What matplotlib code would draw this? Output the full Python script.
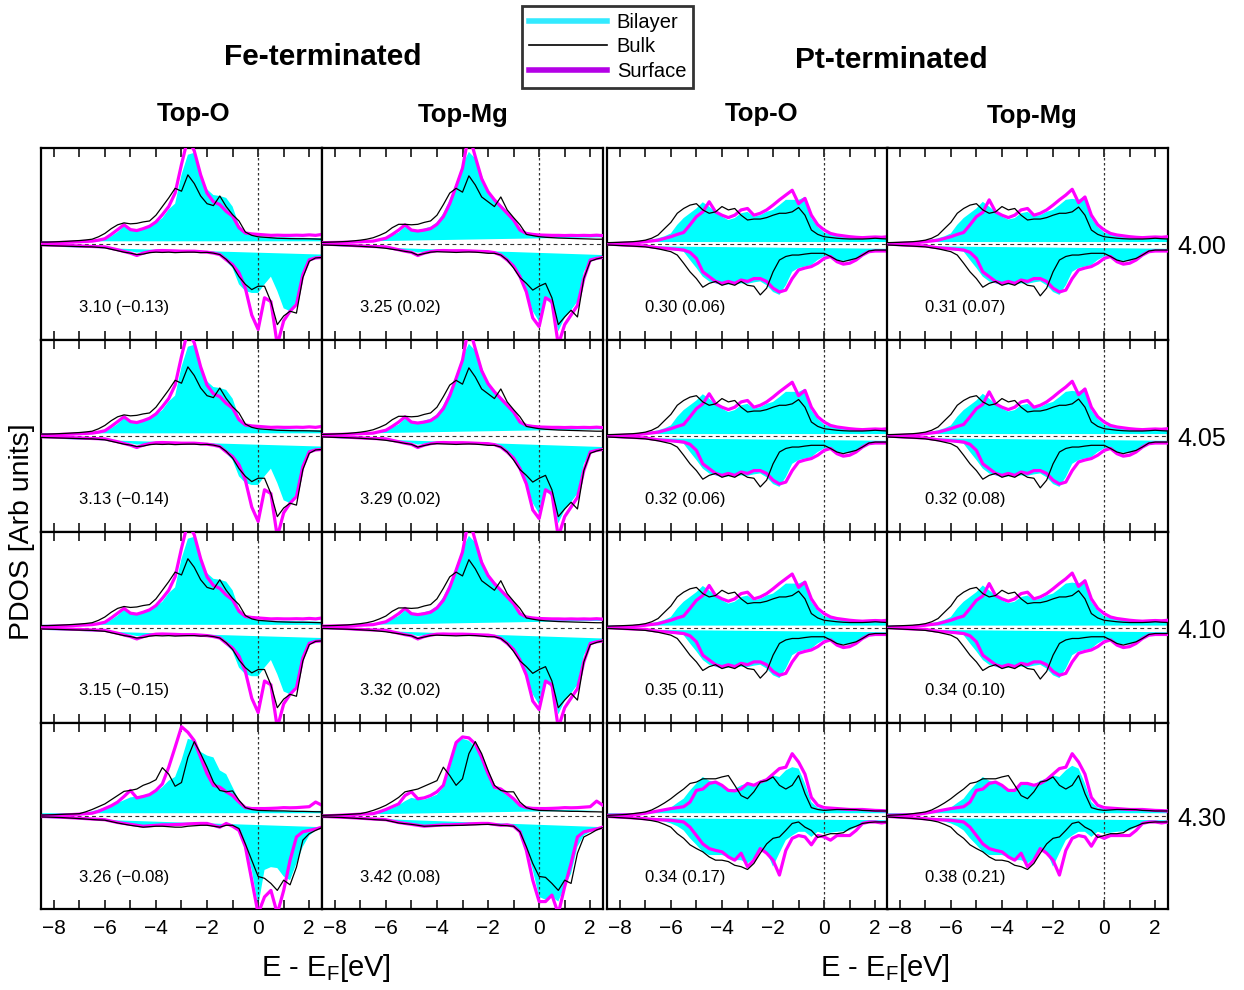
import numpy as np
import matplotlib
matplotlib.use("Agg")
import matplotlib.pyplot as plt
from matplotlib.lines import Line2D
from matplotlib.ticker import MultipleLocator

plt.rcParams['font.family'] = ['Liberation Sans', 'DejaVu Sans']
plt.rcParams['mathtext.fontset'] = 'custom'
plt.rcParams['mathtext.rm'] = 'Liberation Sans'
plt.rcParams['mathtext.it'] = 'Liberation Sans'

# energy grid (eV, relative to E_F)
energy = np.arange(-8.5, 2.51, 0.25)

row_labels = ["4.00", "4.05", "4.10", "4.30"]
col_titles = ["Top-O", "Top-Mg", "Top-O", "Top-Mg"]
group_titles = ["Fe-terminated", "Pt-terminated"]

fe_o_notes = ["3.10 (\u22120.13)", "3.13 (\u22120.14)", "3.15 (\u22120.15)", "3.26 (\u22120.08)"]
fe_mg_notes = ["3.25 (0.02)", "3.29 (0.02)", "3.32 (0.02)", "3.42 (0.08)"]
pt_o_notes = ["0.30 (0.06)", "0.32 (0.06)", "0.35 (0.11)", "0.34 (0.17)"]
pt_mg_notes = ["0.31 (0.07)", "0.32 (0.08)", "0.34 (0.10)", "0.38 (0.21)"]

# ---------------- Fe-terminated, Top-O (4.00 - 4.10) ----------------
fe_o_bil_up = [0.020, 0.020, 0.021, 0.022, 0.024, 0.026, 0.030, 0.034, 0.038,
               0.042, 0.045, 0.080, 0.125, 0.185, 0.150, 0.150, 0.165, 0.195,
               0.220, 0.270, 0.360, 0.420, 0.720, 0.930, 0.950, 0.700, 0.570,
               0.510, 0.500, 0.480, 0.390, 0.200, 0.115, 0.090, 0.080, 0.075,
               0.072, 0.070, 0.070, 0.068, 0.066, 0.065, 0.063, 0.062, 0.060]
fe_o_bulk_up = [0.020, 0.020, 0.022, 0.025, 0.028, 0.032, 0.036, 0.042, 0.050,
                0.075, 0.110, 0.160, 0.200, 0.220, 0.210, 0.215, 0.230, 0.240,
                0.300, 0.390, 0.480, 0.580, 0.550, 0.720, 0.630, 0.500, 0.420,
                0.400, 0.500, 0.390, 0.305, 0.240, 0.125, 0.090, 0.075, 0.070,
                0.065, 0.060, 0.058, 0.056, 0.055, 0.055, 0.054, 0.052, 0.050]
fe_o_surf_up = [0.010, 0.012, 0.014, 0.016, 0.018, 0.020, 0.024, 0.027, 0.030,
                0.040, 0.055, 0.100, 0.150, 0.200, 0.150, 0.140, 0.160, 0.185,
                0.230, 0.305, 0.390, 0.530, 0.830, 1.100, 0.970, 0.720, 0.530,
                0.440, 0.410, 0.340, 0.290, 0.170, 0.115, 0.105, 0.100, 0.095,
                0.090, 0.092, 0.090, 0.090, 0.092, 0.090, 0.095, 0.090, 0.100]
fe_o_bil_dn = [-0.025, -0.026, -0.027, -0.028, -0.029, -0.030, -0.032, -0.034, -0.036,
               -0.038, -0.040, -0.050, -0.060, -0.068, -0.075, -0.090, -0.085, -0.075,
               -0.070, -0.070, -0.072, -0.074, -0.075, -0.076, -0.078, -0.080, -0.085,
               -0.095, -0.110, -0.180, -0.250, -0.420, -0.490, -0.510, -0.510, -0.420,
               -0.340, -0.490, -0.670, -0.700, -0.600, -0.285, -0.165, -0.145, -0.140]
fe_o_bulk_dn = [-0.015, -0.017, -0.019, -0.021, -0.023, -0.025, -0.027, -0.029, -0.030,
                -0.035, -0.040, -0.055, -0.070, -0.085, -0.095, -0.110, -0.105, -0.090,
                -0.085, -0.088, -0.085, -0.090, -0.087, -0.085, -0.085, -0.090, -0.087,
                -0.095, -0.110, -0.160, -0.230, -0.340, -0.420, -0.475, -0.440, -0.440,
                -0.600, -0.840, -0.750, -0.700, -0.720, -0.350, -0.180, -0.145, -0.140]
fe_o_surf_dn = [-0.007, -0.009, -0.011, -0.013, -0.015, -0.018, -0.020, -0.023, -0.026,
                -0.028, -0.030, -0.045, -0.060, -0.078, -0.095, -0.120, -0.095, -0.080,
                -0.070, -0.068, -0.070, -0.072, -0.075, -0.075, -0.075, -0.080, -0.085,
                -0.095, -0.110, -0.165, -0.215, -0.300, -0.460, -0.740, -0.890, -0.560,
                -0.600, -1.050, -0.800, -0.700, -0.630, -0.320, -0.165, -0.145, -0.140]
fe_o_fill_ends = [0.028, 0.028, -0.025, -0.110]

# ---------------- Fe-terminated, Top-O (4.30) ----------------
fe_o4_bil_up = [0.010, 0.012, 0.014, 0.016, 0.019, 0.022, 0.026, 0.035, 0.050,
                0.070, 0.090, 0.115, 0.140, 0.170, 0.200, 0.210, 0.220, 0.240,
                0.260, 0.310, 0.380, 0.420, 0.600, 0.830, 0.810, 0.690, 0.650,
                0.630, 0.490, 0.450, 0.310, 0.170, 0.090, 0.070, 0.060, 0.058,
                0.057, 0.057, 0.056, 0.056, 0.056, 0.055, 0.055, 0.055, 0.055]
fe_o4_bulk_up = [0.010, 0.012, 0.014, 0.017, 0.020, 0.022, 0.025, 0.045, 0.070,
                 0.100, 0.130, 0.175, 0.220, 0.265, 0.275, 0.290, 0.330, 0.355,
                 0.390, 0.520, 0.450, 0.320, 0.360, 0.630, 0.800, 0.670, 0.525,
                 0.365, 0.275, 0.260, 0.270, 0.170, 0.090, 0.070, 0.060, 0.058,
                 0.056, 0.055, 0.055, 0.052, 0.050, 0.050, 0.048, 0.046, 0.045]
fe_o4_surf_up = [0.000, 0.003, 0.006, 0.009, 0.012, 0.016, 0.020, 0.025, 0.030,
                 0.050, 0.080, 0.110, 0.150, 0.210, 0.275, 0.195, 0.210, 0.230,
                 0.275, 0.345, 0.525, 0.740, 0.960, 0.900, 0.810, 0.630, 0.455,
                 0.330, 0.310, 0.260, 0.220, 0.150, 0.090, 0.080, 0.080, 0.080,
                 0.082, 0.085, 0.090, 0.088, 0.090, 0.095, 0.100, 0.150, 0.115]
fe_o4_bil_dn = [-0.010, -0.012, -0.014, -0.016, -0.019, -0.022, -0.026, -0.030, -0.034,
                -0.038, -0.040, -0.055, -0.068, -0.080, -0.090, -0.100, -0.105, -0.102,
                -0.100, -0.098, -0.097, -0.096, -0.095, -0.093, -0.092, -0.090, -0.090,
                -0.100, -0.110, -0.100, -0.100, -0.155, -0.330, -0.580, -0.975, -0.580,
                -0.550, -0.560, -0.650, -0.690, -0.510, -0.330, -0.210, -0.155, -0.125]
fe_o4_bulk_dn = [-0.010, -0.012, -0.014, -0.016, -0.020, -0.024, -0.028, -0.033, -0.038,
                 -0.042, -0.045, -0.060, -0.075, -0.088, -0.100, -0.110, -0.120, -0.115,
                 -0.110, -0.110, -0.115, -0.120, -0.120, -0.110, -0.105, -0.100, -0.100,
                 -0.110, -0.120, -0.100, -0.100, -0.135, -0.300, -0.475, -0.650, -0.670,
                 -0.725, -0.800, -0.690, -0.740, -0.550, -0.260, -0.190, -0.155, -0.125]
fe_o4_surf_dn = [-0.005, -0.007, -0.010, -0.013, -0.016, -0.020, -0.024, -0.028, -0.032,
                 -0.036, -0.040, -0.055, -0.070, -0.080, -0.090, -0.100, -0.110, -0.105,
                 -0.100, -0.095, -0.095, -0.092, -0.090, -0.085, -0.082, -0.080, -0.080,
                 -0.100, -0.120, -0.080, -0.110, -0.155, -0.330, -0.690, -1.050, -0.870,
                 -0.800, -1.050, -0.800, -0.475, -0.225, -0.170, -0.155, -0.140, -0.120]
fe_o4_fill_ends = [0.030, 0.030, -0.020, -0.120]

# ---------------- Fe-terminated, Top-Mg (4.00 - 4.10) ----------------
fe_mg_bil_up = [0.017, 0.018, 0.019, 0.020, 0.022, 0.024, 0.027, 0.030, 0.035,
                0.045, 0.060, 0.090, 0.120, 0.180, 0.145, 0.145, 0.160, 0.180,
                0.225, 0.320, 0.460, 0.630, 0.820, 0.960, 0.890, 0.720, 0.545,
                0.475, 0.410, 0.340, 0.270, 0.160, 0.110, 0.100, 0.094, 0.093,
                0.093, 0.093, 0.094, 0.094, 0.094, 0.094, 0.094, 0.094, 0.094]
fe_mg_bulk_up = [0.017, 0.019, 0.021, 0.024, 0.027, 0.033, 0.040, 0.050, 0.065,
                 0.090, 0.120, 0.170, 0.205, 0.205, 0.200, 0.205, 0.225, 0.240,
                 0.300, 0.410, 0.530, 0.580, 0.540, 0.710, 0.615, 0.490, 0.440,
                 0.390, 0.490, 0.355, 0.275, 0.200, 0.100, 0.087, 0.076, 0.070,
                 0.066, 0.062, 0.060, 0.058, 0.056, 0.054, 0.052, 0.050, 0.050]
fe_mg_surf_up = [0.014, 0.015, 0.016, 0.017, 0.019, 0.021, 0.024, 0.027, 0.030,
                 0.045, 0.060, 0.100, 0.145, 0.200, 0.145, 0.135, 0.145, 0.160,
                 0.205, 0.285, 0.420, 0.600, 0.790, 1.150, 0.910, 0.680, 0.545,
                 0.460, 0.390, 0.320, 0.250, 0.145, 0.110, 0.100, 0.094, 0.092,
                 0.090, 0.090, 0.088, 0.090, 0.088, 0.090, 0.088, 0.092, 0.087]
fe_mg_bil_dn = [-0.017, -0.018, -0.019, -0.020, -0.021, -0.022, -0.024, -0.027, -0.030,
                -0.033, -0.035, -0.045, -0.055, -0.063, -0.070, -0.090, -0.080, -0.072,
                -0.070, -0.070, -0.071, -0.071, -0.072, -0.073, -0.075, -0.078, -0.080,
                -0.090, -0.110, -0.167, -0.250, -0.360, -0.500, -0.700, -0.810, -0.560,
                -0.635, -0.910, -0.770, -0.690, -0.600, -0.290, -0.167, -0.150, -0.140]
fe_mg_bulk_dn = [-0.010, -0.012, -0.014, -0.016, -0.018, -0.021, -0.024, -0.028, -0.032,
                 -0.038, -0.045, -0.055, -0.065, -0.077, -0.087, -0.115, -0.100, -0.085,
                 -0.080, -0.083, -0.085, -0.088, -0.085, -0.083, -0.085, -0.090, -0.097,
                 -0.097, -0.115, -0.167, -0.250, -0.350, -0.410, -0.480, -0.440, -0.410,
                 -0.560, -0.840, -0.760, -0.690, -0.760, -0.360, -0.180, -0.156, -0.140]
fe_mg_surf_dn = [0.000, -0.003, -0.006, -0.009, -0.012, -0.016, -0.020, -0.023, -0.026,
                 -0.028, -0.030, -0.045, -0.060, -0.075, -0.087, -0.120, -0.095, -0.080,
                 -0.070, -0.068, -0.070, -0.070, -0.070, -0.072, -0.075, -0.078, -0.080,
                 -0.090, -0.115, -0.167, -0.230, -0.340, -0.500, -0.770, -0.860, -0.560,
                 -0.600, -1.050, -0.840, -0.740, -0.640, -0.360, -0.167, -0.150, -0.140]
fe_mg_fill_ends = [0.020, 0.070, -0.017, -0.115]

# ---------------- Fe-terminated, Top-Mg (4.30) ----------------
fe_mg4_bil_up = [0.010, 0.011, 0.012, 0.013, 0.015, 0.017, 0.020, 0.025, 0.030,
                 0.045, 0.060, 0.085, 0.115, 0.160, 0.195, 0.180, 0.175, 0.200,
                 0.230, 0.310, 0.510, 0.775, 0.830, 0.810, 0.740, 0.610, 0.435,
                 0.290, 0.275, 0.220, 0.170, 0.100, 0.080, 0.075, 0.070, 0.068,
                 0.066, 0.065, 0.064, 0.063, 0.062, 0.062, 0.061, 0.060, 0.060]
fe_mg4_bulk_up = [0.007, 0.009, 0.011, 0.014, 0.017, 0.021, 0.025, 0.040, 0.060,
                  0.085, 0.115, 0.155, 0.200, 0.260, 0.275, 0.290, 0.320, 0.350,
                  0.380, 0.525, 0.435, 0.330, 0.400, 0.670, 0.800, 0.670, 0.490,
                  0.330, 0.275, 0.260, 0.260, 0.150, 0.090, 0.070, 0.060, 0.058,
                  0.056, 0.054, 0.052, 0.050, 0.050, 0.048, 0.046, 0.045, 0.043]
fe_mg4_surf_up = [0.000, 0.003, 0.006, 0.009, 0.012, 0.016, 0.020, 0.022, 0.025,
                  0.045, 0.070, 0.100, 0.130, 0.220, 0.260, 0.185, 0.195, 0.220,
                  0.260, 0.330, 0.560, 0.790, 0.850, 0.840, 0.775, 0.630, 0.455,
                  0.310, 0.290, 0.240, 0.185, 0.115, 0.090, 0.082, 0.080, 0.080,
                  0.082, 0.085, 0.090, 0.088, 0.090, 0.095, 0.100, 0.160, 0.115]
fe_mg4_bil_dn = [-0.010, -0.012, -0.014, -0.016, -0.019, -0.022, -0.026, -0.030, -0.034,
                 -0.038, -0.040, -0.055, -0.068, -0.080, -0.090, -0.100, -0.105, -0.102,
                 -0.100, -0.098, -0.097, -0.096, -0.095, -0.093, -0.092, -0.090, -0.090,
                 -0.095, -0.100, -0.100, -0.105, -0.160, -0.330, -0.580, -0.870, -0.900,
                 -0.870, -0.920, -0.760, -0.620, -0.330, -0.210, -0.170, -0.145, -0.125]
fe_mg4_bulk_dn = [-0.010, -0.012, -0.014, -0.016, -0.020, -0.024, -0.028, -0.033, -0.038,
                  -0.042, -0.045, -0.060, -0.075, -0.083, -0.090, -0.100, -0.110, -0.108,
                  -0.105, -0.103, -0.102, -0.101, -0.100, -0.097, -0.095, -0.092, -0.090,
                  -0.095, -0.100, -0.105, -0.110, -0.170, -0.330, -0.510, -0.650, -0.660,
                  -0.725, -0.800, -0.690, -0.725, -0.400, -0.225, -0.190, -0.150, -0.125]
fe_mg4_surf_dn = [-0.005, -0.007, -0.010, -0.013, -0.016, -0.020, -0.024, -0.028, -0.032,
                  -0.036, -0.040, -0.055, -0.070, -0.080, -0.090, -0.100, -0.110, -0.105,
                  -0.100, -0.095, -0.095, -0.092, -0.090, -0.085, -0.082, -0.080, -0.080,
                  -0.090, -0.100, -0.095, -0.110, -0.170, -0.370, -0.690, -0.920, -0.920,
                  -0.850, -1.050, -0.760, -0.510, -0.225, -0.170, -0.155, -0.140, -0.120]
fe_mg4_fill_ends = [0.010, 0.060, -0.010, -0.120]

# ---------------- Pt-terminated, Top-O (4.00 - 4.10) ----------------
pt_o_bil_up = [0.014, 0.016, 0.018, 0.020, 0.023, 0.028, 0.035, 0.045, 0.060,
               0.080, 0.110, 0.200, 0.270, 0.320, 0.370, 0.435, 0.390, 0.335,
               0.285, 0.250, 0.270, 0.320, 0.335, 0.285, 0.300, 0.335, 0.355,
               0.405, 0.460, 0.460, 0.460, 0.490, 0.270, 0.180, 0.120, 0.100,
               0.094, 0.085, 0.076, 0.070, 0.066, 0.064, 0.062, 0.060, 0.060]
pt_o_bulk_up = [0.014, 0.016, 0.018, 0.021, 0.024, 0.030, 0.040, 0.060, 0.094,
                0.160, 0.225, 0.320, 0.370, 0.405, 0.420, 0.355, 0.320, 0.335,
                0.390, 0.355, 0.370, 0.300, 0.250, 0.260, 0.260, 0.275, 0.300,
                0.320, 0.320, 0.335, 0.380, 0.300, 0.146, 0.100, 0.076, 0.068,
                0.060, 0.055, 0.052, 0.052, 0.052, 0.055, 0.060, 0.055, 0.052]
pt_o_surf_up = [0.000, 0.004, 0.007, 0.009, 0.010, 0.017, 0.024, 0.032, 0.040,
                0.058, 0.076, 0.100, 0.120, 0.200, 0.285, 0.335, 0.440, 0.335,
                0.300, 0.275, 0.300, 0.355, 0.370, 0.300, 0.320, 0.355, 0.405,
                0.460, 0.510, 0.560, 0.420, 0.475, 0.300, 0.200, 0.146, 0.110,
                0.094, 0.085, 0.076, 0.070, 0.066, 0.070, 0.073, 0.070, 0.076]
pt_o_bil_dn = [-0.020, -0.020, -0.021, -0.022, -0.024, -0.027, -0.030, -0.035, -0.040,
               -0.050, -0.060, -0.070, -0.080, -0.167, -0.250, -0.340, -0.390, -0.410,
               -0.430, -0.420, -0.420, -0.410, -0.415, -0.400, -0.390, -0.430, -0.500,
               -0.530, -0.430, -0.290, -0.250, -0.235, -0.220, -0.167, -0.130, -0.140,
               -0.167, -0.175, -0.180, -0.150, -0.115, -0.080, -0.073, -0.073, -0.073]
pt_o_bulk_dn = [-0.010, -0.013, -0.016, -0.019, -0.022, -0.026, -0.030, -0.040, -0.050,
                -0.065, -0.080, -0.115, -0.200, -0.290, -0.360, -0.450, -0.410, -0.390,
                -0.430, -0.410, -0.430, -0.390, -0.430, -0.440, -0.530, -0.460, -0.290,
                -0.167, -0.130, -0.115, -0.115, -0.105, -0.097, -0.097, -0.097, -0.130,
                -0.167, -0.184, -0.167, -0.150, -0.115, -0.073, -0.063, -0.063, -0.063]
pt_o_surf_dn = [0.000, -0.004, -0.008, -0.012, -0.015, -0.018, -0.020, -0.030, -0.040,
                -0.045, -0.050, -0.056, -0.063, -0.087, -0.150, -0.290, -0.340, -0.390,
                -0.410, -0.390, -0.410, -0.375, -0.390, -0.360, -0.360, -0.390, -0.460,
                -0.500, -0.480, -0.360, -0.270, -0.250, -0.235, -0.200, -0.150, -0.130,
                -0.184, -0.210, -0.200, -0.167, -0.115, -0.080, -0.073, -0.073, -0.073]
pt_o_fill_ends = [0.020, 0.020, -0.020, -0.050]

# ---------------- Pt-terminated, Top-O (4.30) ----------------
pt_o4_bil_up = [0.007, 0.009, 0.012, 0.015, 0.020, 0.027, 0.035, 0.050, 0.065,
                0.077, 0.090, 0.140, 0.186, 0.275, 0.350, 0.420, 0.380, 0.365,
                0.330, 0.290, 0.290, 0.330, 0.350, 0.330, 0.380, 0.400, 0.435,
                0.420, 0.490, 0.525, 0.510, 0.350, 0.150, 0.090, 0.080, 0.075,
                0.070, 0.068, 0.066, 0.065, 0.064, 0.063, 0.062, 0.061, 0.060]
pt_o4_bulk_up = [0.007, 0.010, 0.013, 0.017, 0.025, 0.033, 0.043, 0.065, 0.100,
                 0.140, 0.186, 0.240, 0.290, 0.350, 0.365, 0.400, 0.400, 0.400,
                 0.420, 0.435, 0.330, 0.220, 0.186, 0.260, 0.365, 0.380, 0.420,
                 0.330, 0.290, 0.330, 0.435, 0.240, 0.090, 0.070, 0.060, 0.065,
                 0.070, 0.070, 0.070, 0.068, 0.060, 0.058, 0.054, 0.054, 0.054]
pt_o4_surf_up = [0.007, 0.009, 0.011, 0.013, 0.014, 0.020, 0.030, 0.042, 0.054,
                 0.067, 0.080, 0.090, 0.100, 0.150, 0.275, 0.290, 0.350, 0.365,
                 0.330, 0.275, 0.270, 0.290, 0.350, 0.330, 0.365, 0.390, 0.450,
                 0.510, 0.525, 0.670, 0.580, 0.450, 0.200, 0.115, 0.090, 0.085,
                 0.080, 0.075, 0.070, 0.070, 0.070, 0.065, 0.060, 0.058, 0.054]
pt_o4_bil_dn = [-0.020, -0.022, -0.024, -0.026, -0.028, -0.032, -0.036, -0.040, -0.045,
                -0.060, -0.080, -0.110, -0.155, -0.240, -0.310, -0.385, -0.420, -0.420,
                -0.420, -0.440, -0.475, -0.475, -0.510, -0.457, -0.370, -0.385, -0.545,
                -0.400, -0.260, -0.210, -0.170, -0.170, -0.225, -0.170, -0.190, -0.180,
                -0.170, -0.165, -0.155, -0.120, -0.080, -0.065, -0.064, -0.064, -0.064]
pt_o4_bulk_dn = [-0.010, -0.014, -0.018, -0.022, -0.027, -0.033, -0.040, -0.050, -0.064,
                 -0.090, -0.120, -0.190, -0.240, -0.310, -0.350, -0.385, -0.440, -0.475,
                 -0.475, -0.490, -0.530, -0.545, -0.575, -0.510, -0.400, -0.300, -0.240,
                 -0.225, -0.155, -0.080, -0.064, -0.120, -0.155, -0.230, -0.210, -0.190,
                 -0.190, -0.180, -0.135, -0.110, -0.080, -0.070, -0.064, -0.064, -0.064]
pt_o4_surf_dn = [-0.004, -0.008, -0.012, -0.016, -0.020, -0.025, -0.030, -0.035, -0.040,
                 -0.043, -0.046, -0.055, -0.064, -0.120, -0.210, -0.300, -0.350, -0.370,
                 -0.385, -0.440, -0.475, -0.400, -0.545, -0.475, -0.350, -0.400, -0.475,
                 -0.635, -0.370, -0.240, -0.210, -0.225, -0.310, -0.210, -0.225, -0.260,
                 -0.210, -0.210, -0.210, -0.155, -0.080, -0.064, -0.064, -0.075, -0.064]
pt_o4_fill_ends = [0.030, 0.030, -0.020, -0.046]

# ---------------- Pt-terminated, Top-Mg (4.00 - 4.10) ----------------
pt_mg_bil_up = [0.014, 0.016, 0.018, 0.020, 0.023, 0.028, 0.035, 0.045, 0.060,
                0.080, 0.110, 0.200, 0.270, 0.320, 0.370, 0.440, 0.390, 0.335,
                0.285, 0.255, 0.270, 0.320, 0.335, 0.290, 0.300, 0.335, 0.355,
                0.405, 0.460, 0.470, 0.460, 0.500, 0.270, 0.180, 0.120, 0.100,
                0.094, 0.085, 0.076, 0.070, 0.066, 0.064, 0.062, 0.060, 0.060]
pt_mg_bulk_up = [0.014, 0.016, 0.018, 0.021, 0.024, 0.030, 0.040, 0.060, 0.094,
                 0.160, 0.225, 0.320, 0.370, 0.405, 0.420, 0.355, 0.320, 0.335,
                 0.390, 0.355, 0.370, 0.300, 0.250, 0.260, 0.260, 0.275, 0.300,
                 0.320, 0.320, 0.335, 0.385, 0.300, 0.146, 0.100, 0.076, 0.068,
                 0.060, 0.055, 0.052, 0.052, 0.052, 0.055, 0.060, 0.055, 0.052]
pt_mg_surf_up = [0.000, 0.004, 0.007, 0.009, 0.010, 0.017, 0.024, 0.032, 0.040,
                 0.058, 0.076, 0.100, 0.120, 0.200, 0.285, 0.330, 0.460, 0.335,
                 0.300, 0.275, 0.300, 0.355, 0.370, 0.300, 0.320, 0.355, 0.405,
                 0.460, 0.510, 0.570, 0.430, 0.490, 0.300, 0.200, 0.146, 0.110,
                 0.094, 0.085, 0.076, 0.070, 0.066, 0.070, 0.073, 0.070, 0.076]
pt_mg_bil_dn = [-0.020, -0.020, -0.021, -0.022, -0.024, -0.027, -0.030, -0.035, -0.040,
                -0.050, -0.060, -0.070, -0.080, -0.167, -0.250, -0.340, -0.390, -0.410,
                -0.430, -0.420, -0.420, -0.410, -0.415, -0.400, -0.390, -0.430, -0.500,
                -0.530, -0.430, -0.290, -0.250, -0.235, -0.220, -0.167, -0.130, -0.140,
                -0.167, -0.175, -0.180, -0.150, -0.115, -0.080, -0.073, -0.073, -0.073]
pt_mg_bulk_dn = [-0.010, -0.013, -0.016, -0.019, -0.022, -0.026, -0.030, -0.040, -0.050,
                 -0.065, -0.080, -0.115, -0.200, -0.290, -0.360, -0.450, -0.410, -0.390,
                 -0.430, -0.410, -0.430, -0.390, -0.430, -0.440, -0.540, -0.460, -0.290,
                 -0.167, -0.130, -0.115, -0.115, -0.105, -0.097, -0.097, -0.097, -0.130,
                 -0.167, -0.184, -0.167, -0.150, -0.115, -0.073, -0.063, -0.063, -0.063]
pt_mg_surf_dn = [0.000, -0.004, -0.008, -0.012, -0.015, -0.018, -0.020, -0.030, -0.040,
                 -0.045, -0.050, -0.056, -0.063, -0.087, -0.150, -0.290, -0.340, -0.390,
                 -0.410, -0.390, -0.410, -0.375, -0.390, -0.360, -0.360, -0.390, -0.460,
                 -0.500, -0.480, -0.360, -0.270, -0.250, -0.235, -0.200, -0.150, -0.130,
                 -0.184, -0.210, -0.200, -0.167, -0.115, -0.080, -0.073, -0.073, -0.073]
pt_mg_fill_ends = [0.020, 0.020, -0.020, -0.050]

# ---------------- Pt-terminated, Top-Mg (4.30) ----------------
pt_mg4_bil_up = [0.007, 0.009, 0.012, 0.015, 0.020, 0.027, 0.035, 0.050, 0.065,
                 0.077, 0.090, 0.140, 0.186, 0.275, 0.350, 0.420, 0.380, 0.365,
                 0.330, 0.290, 0.290, 0.330, 0.350, 0.330, 0.380, 0.400, 0.435,
                 0.420, 0.490, 0.540, 0.510, 0.350, 0.150, 0.090, 0.080, 0.075,
                 0.070, 0.068, 0.066, 0.065, 0.064, 0.063, 0.062, 0.061, 0.060]
pt_mg4_bulk_up = [0.007, 0.010, 0.013, 0.017, 0.025, 0.033, 0.043, 0.065, 0.100,
                  0.140, 0.186, 0.240, 0.290, 0.350, 0.365, 0.400, 0.400, 0.400,
                  0.420, 0.435, 0.330, 0.220, 0.186, 0.260, 0.365, 0.380, 0.420,
                  0.330, 0.290, 0.330, 0.435, 0.240, 0.090, 0.070, 0.060, 0.065,
                  0.070, 0.070, 0.070, 0.068, 0.060, 0.058, 0.054, 0.054, 0.054]
pt_mg4_surf_up = [0.007, 0.009, 0.011, 0.013, 0.014, 0.020, 0.030, 0.042, 0.054,
                  0.067, 0.080, 0.090, 0.100, 0.150, 0.275, 0.290, 0.350, 0.365,
                  0.330, 0.275, 0.275, 0.350, 0.350, 0.330, 0.350, 0.390, 0.450,
                  0.510, 0.525, 0.670, 0.580, 0.450, 0.200, 0.115, 0.090, 0.085,
                  0.080, 0.075, 0.070, 0.070, 0.070, 0.065, 0.060, 0.058, 0.054]
pt_mg4_bil_dn = [-0.020, -0.022, -0.024, -0.026, -0.028, -0.032, -0.036, -0.040, -0.045,
                 -0.060, -0.080, -0.110, -0.155, -0.240, -0.310, -0.385, -0.420, -0.420,
                 -0.420, -0.440, -0.475, -0.475, -0.510, -0.457, -0.370, -0.385, -0.545,
                 -0.400, -0.260, -0.210, -0.170, -0.170, -0.225, -0.170, -0.190, -0.180,
                 -0.170, -0.165, -0.155, -0.120, -0.080, -0.065, -0.064, -0.064, -0.064]
pt_mg4_bulk_dn = [-0.010, -0.014, -0.018, -0.022, -0.027, -0.033, -0.040, -0.050, -0.064,
                  -0.090, -0.120, -0.190, -0.240, -0.310, -0.350, -0.385, -0.440, -0.475,
                  -0.475, -0.490, -0.530, -0.545, -0.575, -0.510, -0.400, -0.300, -0.240,
                  -0.225, -0.155, -0.080, -0.064, -0.120, -0.155, -0.230, -0.210, -0.190,
                  -0.190, -0.180, -0.135, -0.110, -0.080, -0.070, -0.064, -0.064, -0.064]
pt_mg4_surf_dn = [-0.004, -0.008, -0.012, -0.016, -0.020, -0.025, -0.030, -0.035, -0.040,
                  -0.043, -0.046, -0.055, -0.064, -0.120, -0.210, -0.300, -0.350, -0.370,
                  -0.385, -0.440, -0.475, -0.400, -0.545, -0.475, -0.350, -0.400, -0.475,
                  -0.635, -0.370, -0.240, -0.210, -0.225, -0.325, -0.210, -0.240, -0.210,
                  -0.210, -0.210, -0.210, -0.155, -0.080, -0.064, -0.064, -0.075, -0.064]
pt_mg4_fill_ends = [0.030, 0.030, -0.020, -0.046]


def panel(bil_up, bulk_up, surf_up, bil_dn, bulk_dn, surf_dn, ends):
    return dict(bil_up=bil_up, bulk_up=bulk_up, surf_up=surf_up,
                bil_dn=bil_dn, bulk_dn=bulk_dn, surf_dn=surf_dn, ends=ends)


fe_o = panel(fe_o_bil_up, fe_o_bulk_up, fe_o_surf_up, fe_o_bil_dn, fe_o_bulk_dn, fe_o_surf_dn, fe_o_fill_ends)
fe_o4 = panel(fe_o4_bil_up, fe_o4_bulk_up, fe_o4_surf_up, fe_o4_bil_dn, fe_o4_bulk_dn, fe_o4_surf_dn, fe_o4_fill_ends)
fe_mg = panel(fe_mg_bil_up, fe_mg_bulk_up, fe_mg_surf_up, fe_mg_bil_dn, fe_mg_bulk_dn, fe_mg_surf_dn, fe_mg_fill_ends)
fe_mg4 = panel(fe_mg4_bil_up, fe_mg4_bulk_up, fe_mg4_surf_up, fe_mg4_bil_dn, fe_mg4_bulk_dn, fe_mg4_surf_dn, fe_mg4_fill_ends)
pt_o = panel(pt_o_bil_up, pt_o_bulk_up, pt_o_surf_up, pt_o_bil_dn, pt_o_bulk_dn, pt_o_surf_dn, pt_o_fill_ends)
pt_o4 = panel(pt_o4_bil_up, pt_o4_bulk_up, pt_o4_surf_up, pt_o4_bil_dn, pt_o4_bulk_dn, pt_o4_surf_dn, pt_o4_fill_ends)
pt_mg = panel(pt_mg_bil_up, pt_mg_bulk_up, pt_mg_surf_up, pt_mg_bil_dn, pt_mg_bulk_dn, pt_mg_surf_dn, pt_mg_fill_ends)
pt_mg4 = panel(pt_mg4_bil_up, pt_mg4_bulk_up, pt_mg4_surf_up, pt_mg4_bil_dn, pt_mg4_bulk_dn, pt_mg4_surf_dn, pt_mg4_fill_ends)

grid = [
    [fe_o, fe_mg, pt_o, pt_mg],
    [fe_o, fe_mg, pt_o, pt_mg],
    [fe_o, fe_mg, pt_o, pt_mg],
    [fe_o4, fe_mg4, pt_o4, pt_mg4],
]
notes = [fe_o_notes, fe_mg_notes, pt_o_notes, pt_mg_notes]

CYAN = '#00ffff'
MAGENTA = '#ff00ff'

W, H = 1244, 990
fig = plt.figure(figsize=(W / 100, H / 100), dpi=100)

col_left = [41, 322, 607, 887]
col_width = 281
row_top = [148, 340, 532, 723]
row_height = [192, 192, 191, 186]

for r in range(4):
    for c in range(4):
        d = grid[r][c]
        ax = fig.add_axes([col_left[c] / W, 1 - (row_top[r] + row_height[r]) / H,
                           col_width / W, row_height[r] / H])
        e = energy
        up0, up1, dn0, dn1 = d['ends']
        ax.fill(np.r_[e[0], e, e[-1]], np.r_[up0, d['bil_up'], up1],
                color=CYAN, lw=0, zorder=1)
        ax.fill(np.r_[e[0], e, e[-1]], np.r_[dn0, d['bil_dn'], dn1],
                color=CYAN, lw=0, zorder=1)
        ax.axhline(0, color='0.2', lw=0.8, ls=(0, (3.5, 3)), zorder=2)
        ax.axvline(0, color='0.2', lw=0.9, ls=(0, (2, 2)), zorder=2)
        ax.plot(e, d['surf_up'], color=MAGENTA, lw=2.3, zorder=3,
                solid_joinstyle='round')
        ax.plot(e, d['surf_dn'], color=MAGENTA, lw=2.3, zorder=3,
                solid_joinstyle='round')
        ax.plot(e, d['bulk_up'], color='black', lw=0.9, zorder=4)
        ax.plot(e, d['bulk_dn'], color='black', lw=0.9, zorder=4)

        ax.text(-7.0, -0.66, notes[c][r], fontsize=12, ha='left', va='center',
                zorder=5)

        ax.set_xlim(-8.5, 2.5)
        ax.set_ylim(-1, 1)
        ax.set_yticks([])
        ax.xaxis.set_major_locator(MultipleLocator(2))
        ax.xaxis.set_minor_locator(MultipleLocator(1))
        ax.tick_params(axis='x', which='both', direction='in', top=True,
                       bottom=True, length=6.5, width=1.1, labelsize=15, pad=7)
        if r < 3:
            ax.tick_params(axis='x', which='both', labelbottom=False)
        for s in ax.spines.values():
            s.set_linewidth(1.6)

    fig.text(1177 / W, 1 - (row_top[r] + row_height[r] / 2 + 3) / H,
             row_labels[r], fontsize=18, ha='left', va='center')

# titles
fig.text(323 / W, 1 - 57 / H, group_titles[0], fontsize=21.5, weight='bold',
         ha='center', va='center')
fig.text(891 / W, 1 - 60 / H, group_titles[1], fontsize=21.5, weight='bold',
         ha='center', va='center')
for x, y, t in zip([194, 463, 762, 1032], [114, 115, 114, 116], col_titles):
    fig.text(x / W, 1 - y / H, t, fontsize=18.5, weight='bold',
             ha='center', va='center')

# axis labels
for x in [326, 885]:
    fig.text(x / W, 1 - 968 / H, r'E - E$_{\mathrm{F}}$[eV]', fontsize=21,
             ha='center', va='center')
fig.text(22 / W, 1 - 532 / H, 'PDOS [Arb units]', fontsize=20.5, rotation=90,
         ha='center', va='center')

# legend
handles = [Line2D([], [], color='#33eaff', lw=4),
           Line2D([], [], color='black', lw=1.2),
           Line2D([], [], color='#b400e6', lw=4)]
leg = fig.legend(handles, ['Bilayer', 'Bulk', 'Surface'],
                 loc='upper left', bbox_to_anchor=(522 / W, 1 - 6 / H),
                 fontsize=14.5, frameon=True, fancybox=False, edgecolor='black',
                 handlelength=3.87, handletextpad=0.5, labelspacing=0.28,
                 borderpad=0.33, borderaxespad=0)
leg.get_frame().set_linewidth(2)

fig.savefig('out.png', dpi=100)
